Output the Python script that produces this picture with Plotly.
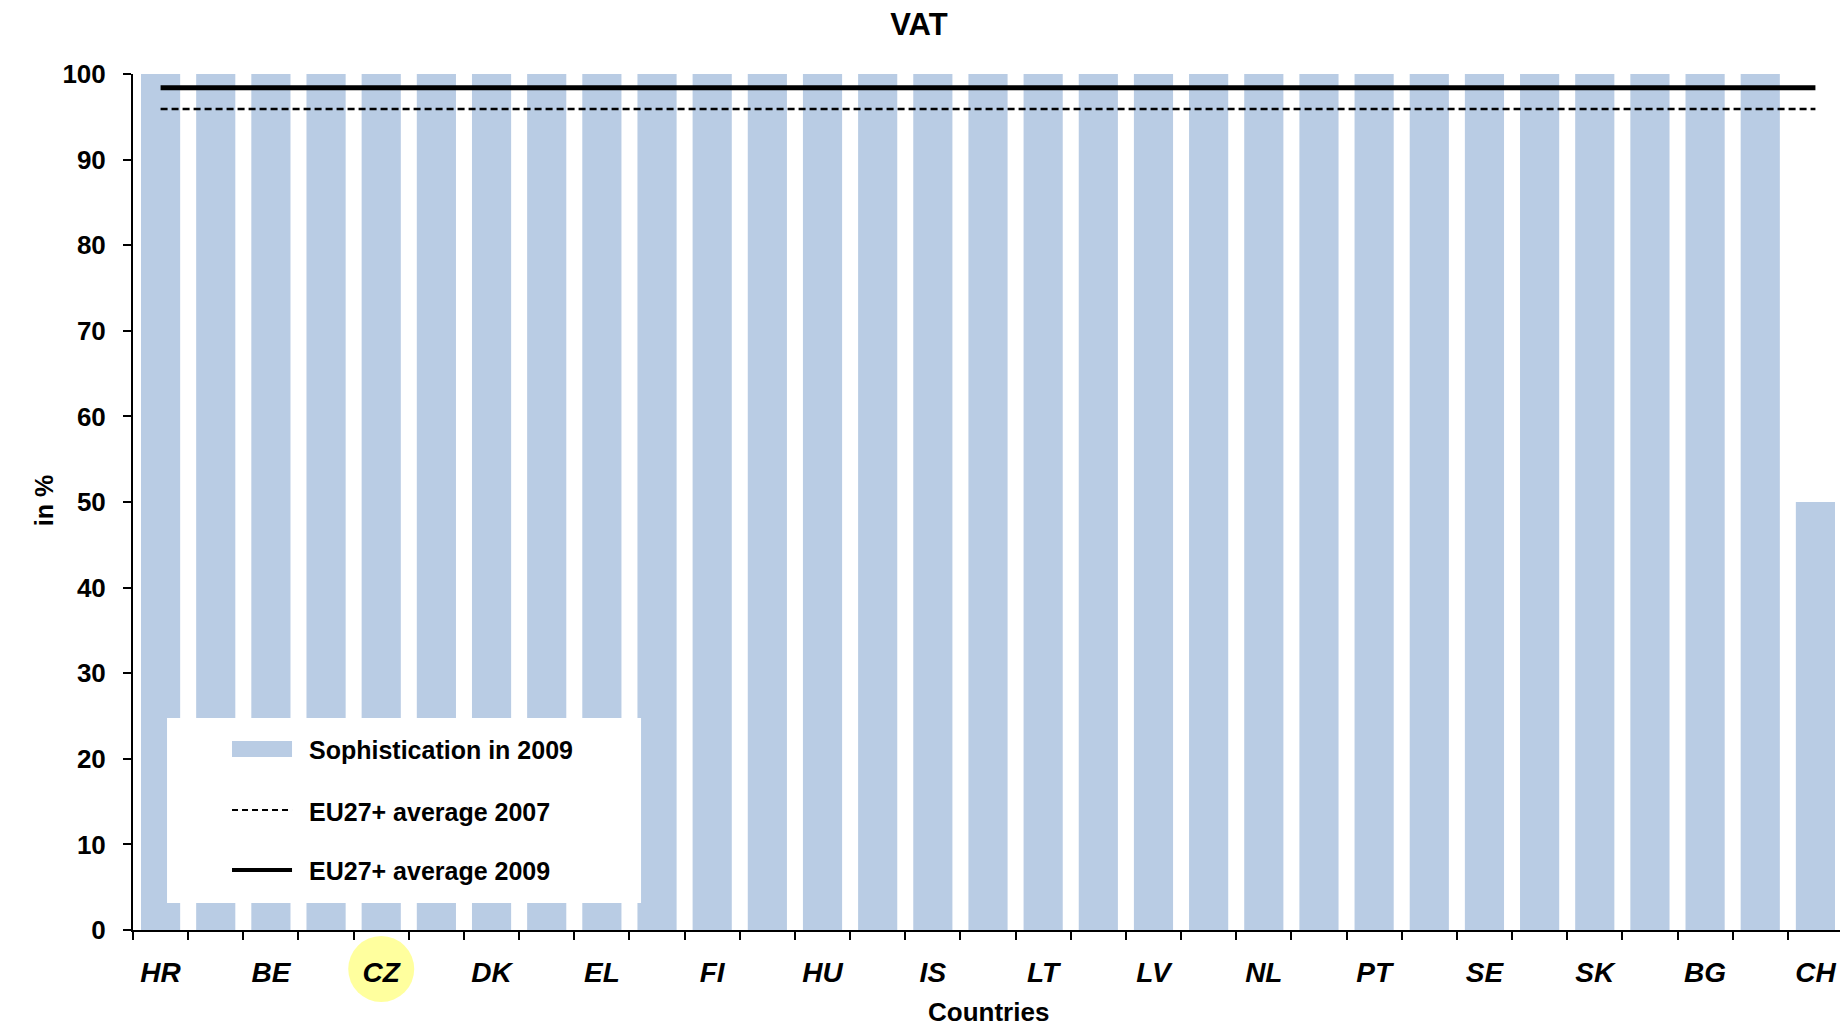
import plotly.graph_objects as go

# Country order as on the chart (labels shown on every other bar)
countries = ["HR", "AT", "BE", "CY", "CZ", "DE", "DK", "EE", "EL", "ES",
             "FI", "FR", "HU", "IE", "IS", "IT", "LT", "LU", "LV", "MT",
             "NL", "NO", "PT", "RO", "SE", "SI", "SK", "UK", "BG", "PL", "CH"]
sophistication_2009 = [100] * 30 + [50]
eu_avg_2007 = 95.9
eu_avg_2009 = 98.4
y_ticks = list(range(0, 101, 10))
legend_labels = ["Sophistication in 2009", "EU27+ average 2007", "EU27+ average 2009"]

BAR = "#b9cce4"
FONT = "Liberation Sans, Arial, sans-serif"

tick_text = [c if i % 2 == 0 else "" for i, c in enumerate(countries)]

fig = go.Figure()
fig.add_trace(go.Bar(x=countries, y=sophistication_2009, name=legend_labels[0],
                     marker=dict(color=BAR, line_width=0)))
fig.add_trace(go.Scatter(x=[countries[0], countries[-1]], y=[eu_avg_2007, eu_avg_2007],
                         mode="lines", name=legend_labels[1],
                         line=dict(color="black", width=2.5, dash="7px,4px")))
fig.add_trace(go.Scatter(x=[countries[0], countries[-1]], y=[eu_avg_2009, eu_avg_2009],
                         mode="lines", name=legend_labels[2],
                         line=dict(color="black", width=5)))

# hand-drawn legend box over the bars (Excel style)
fig.add_shape(type="rect", xref="paper", yref="paper", x0=0.0199, x1=0.2971,
              y0=0.0315, y1=0.2477, fillcolor="white", line_width=0, layer="above")
fig.add_shape(type="rect", xref="paper", yref="paper", x0=0.0579, x1=0.0930,
              y0=0.2021, y1=0.2208, fillcolor=BAR, line_width=0, layer="above")
fig.add_shape(type="line", xref="paper", yref="paper", x0=0.0579, x1=0.0930,
              y0=0.1402, y1=0.1402, line=dict(color="black", width=2, dash="6px,4px"),
              layer="above")
fig.add_shape(type="line", xref="paper", yref="paper", x0=0.0579, x1=0.0930,
              y0=0.0701, y1=0.0701, line=dict(color="black", width=4), layer="above")
for label, ypos in zip(legend_labels, [0.2103, 0.1379, 0.0689]):
    fig.add_annotation(text=f"<b>{label}</b>", xref="paper", yref="paper", x=0.102,
                       y=ypos, xanchor="left", yanchor="middle", showarrow=False,
                       font=dict(size=25, family=FONT, color="black"))

# yellow cursor highlight round the CZ label
cz = countries.index("CZ")
fig.add_shape(type="circle", xref="x", yref="paper", xsizemode="pixel", ysizemode="pixel",
              xanchor=cz, yanchor=-0.0456, x0=-33, x1=33, y0=-33, y1=33,
              fillcolor="#ffff9e", line_width=0, layer="below")

fig.add_annotation(text="<b>in %</b>", xref="paper", yref="paper", x=-0.0614, y=0.501,
                   textangle=-90, showarrow=False, font=dict(size=25))
fig.add_annotation(text="<b>Countries</b>", xref="paper", yref="paper", x=0.5, y=-0.0958,
                   yanchor="middle", showarrow=False, font=dict(size=26))

fig.update_layout(
    width=1840, height=1018,
    margin=dict(l=125, r=5, t=66, b=96),
    paper_bgcolor="white", plot_bgcolor="white",
    font=dict(family=FONT, color="black"),
    title=dict(text="<b>VAT</b>", xref="paper", x=0.4596, xanchor="center",
               y=0.984, yanchor="middle", font=dict(size=31)),
    bargap=0.29,
    showlegend=False,
    xaxis=dict(
        type="category", tickmode="array", tickvals=countries, ticktext=tick_text,
        tickfont=dict(size=28, style="italic", weight="bold"),
        ticks="outside", tickson="boundaries", ticklen=8, tickwidth=2, tickcolor="black",
        ticklabelstandoff=16,
        showline=True, linecolor="black", linewidth=2, showgrid=False,
        range=[-0.5, len(countries) - 0.5],
    ),
    yaxis=dict(
        range=[0, 100], tickvals=y_ticks, ticks="outside", ticklen=8, tickwidth=2,
        tickcolor="black", showline=True, linecolor="black", linewidth=2, showgrid=False,
        zeroline=False, tickfont=dict(size=26, weight="bold"), ticklabelstandoff=12,
    ),
)

fig.write_html("out.html")
